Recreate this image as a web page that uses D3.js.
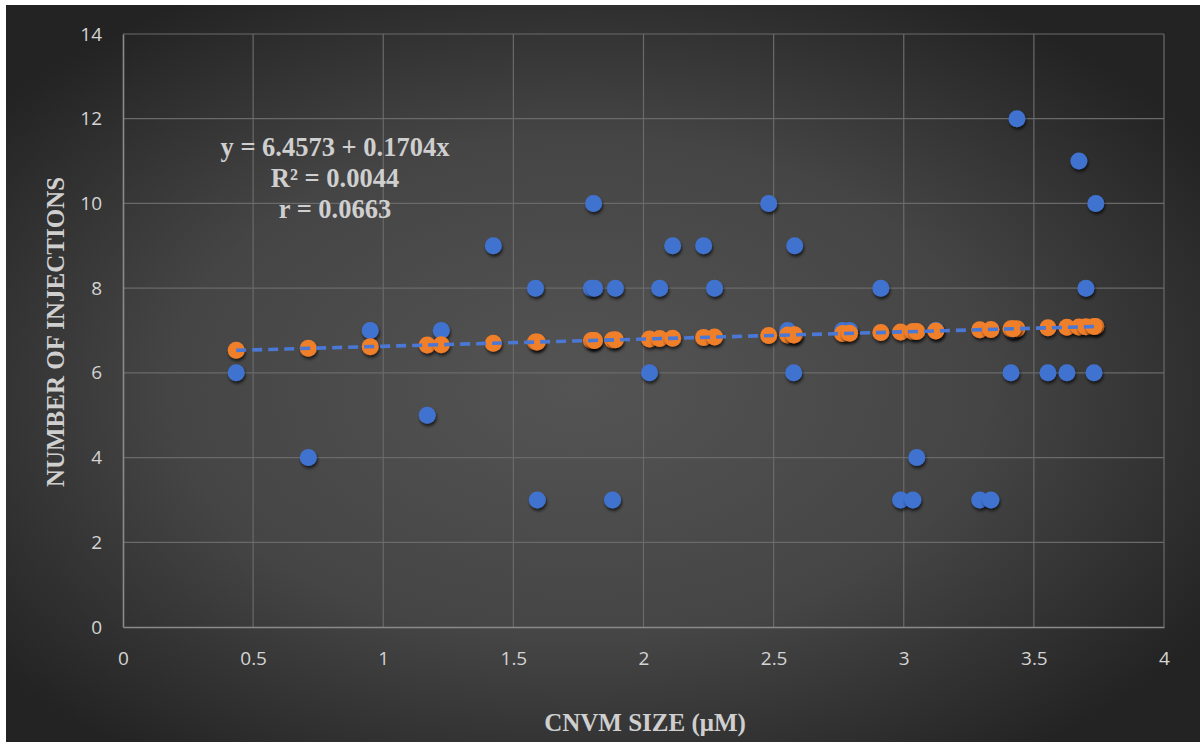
<!DOCTYPE html>
<html>
<head>
<meta charset="utf-8">
<script src="https://cdnjs.cloudflare.com/ajax/libs/d3/7.8.5/d3.min.js"></script>
<style>
  html, body { margin: 0; padding: 0; background: #ffffff; }
  svg { display: block; }
</style>
</head>
<body>
<div id="chart"></div>
<script>

// ############## DATA ##############
var cnvmSize = [
  0.435, 0.712, 0.950, 1.169, 1.223, 1.423, 1.585, 1.592, 1.800, 1.808,
  1.812, 1.881, 1.892, 2.023, 2.062, 2.112, 2.231, 2.273, 2.481, 2.554,
  2.581, 2.577, 2.765, 2.792, 2.912, 2.988, 3.035, 3.050, 3.123, 3.292,
  3.335, 3.412, 3.435, 3.420, 3.554, 3.627, 3.673, 3.700, 3.738, 3.731
];
var injections = [
  6, 4, 7, 5, 7, 9, 8, 3, 8, 10,
  8, 3, 8, 6, 8, 9, 9, 8, 10, 7,
  9, 6, 7, 7, 8, 3, 3, 4, 7, 3,
  3, 6, 12, 7, 6, 6, 11, 8, 10, 6
];
var fitIntercept = 6.4573;
var fitSlope = 0.1704;
var xTicks = [0, 0.5, 1, 1.5, 2, 2.5, 3, 3.5, 4];
var yTicks = [0, 2, 4, 6, 8, 10, 12, 14];
var equationLines = ["y = 6.4573 + 0.1704x", "R\u00b2 = 0.0044", "r = 0.0663"];
var xTitle = "CNVM SIZE (\u03bcM)";
var yTitle = "NUMBER OF INJECTIONS";

// ############## SETTINGS ##############
var attrs = {
  width: 1203,
  height: 742,
  plotLeft: 123,
  plotRight: 1164,
  plotTop: 34,
  plotBottom: 627,
  blue: '#4173d0',
  orange: '#f07f2c',
  textColor: '#d4d4d4',
  titleColor: '#cfcfcf',
  tickFont: '"Open Sans", "Noto Sans", sans-serif',
  titleFont: '"Liberation Serif", "Times New Roman", serif',
  dotRadius: 8.5
};

var points = cnvmSize.map(function(d, i) {
  return { x: d, y: injections[i], fit: fitIntercept + fitSlope * d };
});

// ############## SCALES ##############
var x = d3.scaleLinear().domain([0, 4]).range([attrs.plotLeft, attrs.plotRight]);
var y = d3.scaleLinear().domain([0, 14]).range([attrs.plotBottom, attrs.plotTop]);

var svg = d3.select('#chart').append('svg')
  .attr('width', attrs.width)
  .attr('height', attrs.height);

var defs = svg.append('defs');

// background radial gradient
var grad = defs.append('radialGradient')
  .attr('id', 'bgGrad')
  .attr('cx', '48%').attr('cy', '52%')
  .attr('r', '62%');
grad.append('stop').attr('offset', '0%').attr('stop-color', '#545454');
grad.append('stop').attr('offset', '55%').attr('stop-color', '#454545');
grad.append('stop').attr('offset', '100%').attr('stop-color', '#232323');

// soft shadow under dots
var shadow = defs.append('filter')
  .attr('id', 'dotShadow')
  .attr('x', '-50%').attr('y', '-50%')
  .attr('width', '200%').attr('height', '200%');
shadow.append('feDropShadow')
  .attr('dx', 1).attr('dy', 2.5)
  .attr('stdDeviation', 1.6)
  .attr('flood-color', '#000')
  .attr('flood-opacity', 0.65);

svg.append('rect')
  .attr('x', 6).attr('y', 5)
  .attr('width', 1194).attr('height', 737)
  .attr('fill', 'url(#bgGrad)');

// ############## GRID ##############
var grid = svg.append('g').attr('class', 'grid');

grid.selectAll('.hgrid')
  .data(yTicks.filter(function(d) { return d > 0; }))
  .enter().append('line')
  .attr('class', 'hgrid')
  .attr('x1', x(0)).attr('x2', x(4))
  .attr('y1', function(d) { return y(d); })
  .attr('y2', function(d) { return y(d); })
  .attr('stroke', '#6a6a6a').attr('stroke-width', 1.2);

grid.selectAll('.vgrid')
  .data(xTicks.filter(function(d) { return d > 0; }))
  .enter().append('line')
  .attr('class', 'vgrid')
  .attr('y1', y(0)).attr('y2', y(14))
  .attr('x1', function(d) { return x(d); })
  .attr('x2', function(d) { return x(d); })
  .attr('stroke', '#6a6a6a').attr('stroke-width', 1.2);

// ############## AXES ##############
var xAxis = svg.append('g')
  .attr('transform', 'translate(0,' + y(0) + ')')
  .call(d3.axisBottom(x).tickValues(xTicks).tickSize(0).tickPadding(25)
    .tickFormat(function(d) { return d3.format('')(d); }));

var yAxis = svg.append('g')
  .attr('transform', 'translate(' + x(0) + ',0)')
  .call(d3.axisLeft(y).tickValues(yTicks).tickSize(0).tickPadding(21));

[xAxis, yAxis].forEach(function(ax) {
  ax.select('.domain').attr('stroke', '#8a8a8a').attr('stroke-width', 1.6);
  ax.selectAll('text')
    .attr('fill', attrs.textColor)
    .attr('font-family', attrs.tickFont)
    .attr('font-size', 19);
});

// ############## TREND LINE ##############
var xExtent = d3.extent(cnvmSize);
var trend = [xExtent[0], xExtent[1]].map(function(d) {
  return { x: d, fit: fitIntercept + fitSlope * d };
});

// ############## DOTS ##############
var dots = svg.append('g').attr('class', 'dots');

dots.selectAll('.actual')
  .data(points)
  .enter().append('circle')
  .attr('class', 'actual')
  .attr('cx', function(d) { return x(d.x); })
  .attr('cy', function(d) { return y(d.y); })
  .attr('r', attrs.dotRadius)
  .attr('fill', attrs.blue)
  .attr('filter', 'url(#dotShadow)');

dots.selectAll('.predicted')
  .data(points)
  .enter().append('circle')
  .attr('class', 'predicted')
  .attr('cx', function(d) { return x(d.x); })
  .attr('cy', function(d) { return y(d.fit); })
  .attr('r', attrs.dotRadius)
  .attr('fill', attrs.orange)
  .attr('filter', 'url(#dotShadow)');

svg.append('path')
  .datum(trend)
  .attr('d', d3.line().x(function(d) { return x(d.x); }).y(function(d) { return y(d.fit); }))
  .attr('fill', 'none')
  .attr('stroke', '#4a78d4')
  .attr('stroke-width', 3.6)
  .attr('stroke-dasharray', '10,6');

// ############## EQUATION ##############
svg.append('text')
  .attr('x', 335)
  .attr('y', 156)
  .attr('text-anchor', 'middle')
  .attr('fill', attrs.titleColor)
  .attr('font-family', attrs.titleFont)
  .attr('font-weight', 'bold')
  .attr('font-size', 26.5)
  .selectAll('tspan')
  .data(equationLines)
  .enter().append('tspan')
  .attr('x', 335)
  .attr('dy', function(d, i) { return i === 0 ? 0 : 31; })
  .text(function(d) { return d; });

// ############## TITLES ##############
svg.append('text')
  .attr('x', 645)
  .attr('y', 731)
  .attr('text-anchor', 'middle')
  .attr('fill', attrs.titleColor)
  .attr('font-family', attrs.titleFont)
  .attr('font-weight', 'bold')
  .attr('font-size', 25)
  .text(xTitle);

svg.append('text')
  .attr('transform', 'translate(64,' + 332 + ') rotate(-90)')
  .attr('text-anchor', 'middle')
  .attr('fill', attrs.titleColor)
  .attr('font-family', attrs.titleFont)
  .attr('font-weight', 'bold')
  .attr('font-size', 25)
  .text(yTitle);

</script>
</body>
</html>
